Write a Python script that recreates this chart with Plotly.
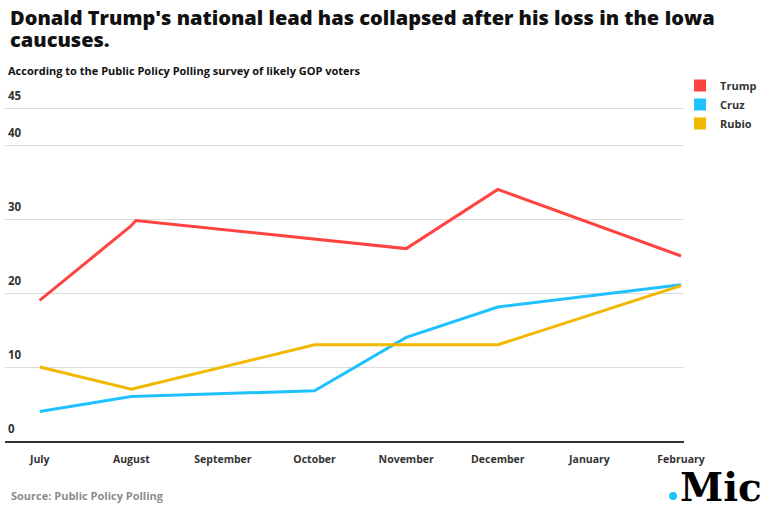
import plotly.graph_objects as go

months = ["July", "August", "September", "October", "November", "December", "January", "February"]
month_pos = [0, 1, 2, 3, 4, 5, 6, 7]

trump_x = [0, 0.99, 1.05, 4, 5, 7]
trump_y = [19, 29, 29.8, 26, 34, 25]

cruz_x = [0, 1, 3, 4, 5, 7]
cruz_y = [4, 6, 6.8, 14, 18.1, 21.1]

rubio_x = [0, 1, 3, 4, 5, 7]
rubio_y = [10, 7, 13, 13, 13, 21]

y_ticks = [0, 10, 20, 30, 40, 45]

colors = {"Trump": "#ff4340", "Cruz": "#1fc1ff", "Rubio": "#f2b800"}
FONT = "Open Sans"

W, H = 767, 515
PLOT_L, PLOT_R = 5, 690          # px
PLOT_T, PLOT_B = 86, 441         # px
L = PLOT_L
R = W - PLOT_R
T = PLOT_T
B = H - PLOT_B
pw = PLOT_R - PLOT_L
ph = PLOT_B - PLOT_T
X0, DX = 40, 92.43                # px of July, px per month
UNIT = 7.4                        # px per percentage point


def px_x(p):
    return (p - PLOT_L) / pw


def px_y(p):
    return (PLOT_B - p) / ph


fig = go.Figure()
for name, xs, ys in [("Trump", trump_x, trump_y), ("Cruz", cruz_x, cruz_y), ("Rubio", rubio_x, rubio_y)]:
    fig.add_trace(go.Scatter(x=xs, y=ys, mode="lines", name=name, showlegend=False,
                             line=dict(color=colors[name], width=3)))
for name in ["Trump", "Cruz", "Rubio"]:
    fig.add_trace(go.Scatter(x=[None], y=[None], mode="markers", name=name,
                             marker=dict(symbol="square", size=12, color=colors[name])))

fig.update_layout(
    width=W, height=H,
    margin=dict(l=L, r=R, t=T, b=B, pad=0),
    paper_bgcolor="white", plot_bgcolor="white",
    font=dict(family=FONT, color="#333333", size=11),
    title=dict(text="Donald Trump's national lead has collapsed after his loss in the Iowa",
               x=10 / W, xref="container", xanchor="left",
               y=1 - 18 / H, yref="container", yanchor="middle",
               font=dict(family=FONT, size=20, color="#111111", weight=800)),
    xaxis=dict(range=[(PLOT_L - X0) / DX, (PLOT_R - X0) / DX],
               tickvals=month_pos, ticktext=months,
               showgrid=False, zeroline=False,
               showline=True, linecolor="#333333", linewidth=1.5,
               ticks="outside", ticklen=8, tickcolor="rgba(0,0,0,0)",
               tickfont=dict(family=FONT, size=10.5, color="#333333", weight=700),
               fixedrange=True),
    yaxis=dict(range=[0, ph / UNIT], tickvals=y_ticks,
               showgrid=True, gridcolor="#dcdcdc", gridwidth=1,
               zeroline=False, showline=False,
               ticklabelposition="inside top", ticklabelshift=-4,
               tickfont=dict(family=FONT, size=11.5, color="#333333", weight=700),
               fixedrange=True),
    legend=dict(x=px_x(686), y=px_y(71), xanchor="left", yanchor="top",
                font=dict(family=FONT, size=11, color="#333333", weight=700),
                itemwidth=30, tracegroupgap=0, bgcolor="rgba(0,0,0,0)"),
    showlegend=True,
)

fig.add_annotation(text="caucuses.",
                   xref="paper", yref="paper", x=px_x(8), y=px_y(40),
                   xanchor="left", yanchor="middle", showarrow=False,
                   font=dict(family=FONT, size=20, color="#111111", weight=800))
fig.add_annotation(text="According to the Public Policy Polling survey of likely GOP voters",
                   xref="paper", yref="paper", x=px_x(6), y=px_y(70),
                   xanchor="left", yanchor="middle", showarrow=False,
                   font=dict(family=FONT, size=11, color="#111111", weight=700))
fig.add_annotation(text="Source: Public Policy Polling",
                   xref="paper", yref="paper", x=px_x(9), y=px_y(495),
                   xanchor="left", yanchor="middle", showarrow=False,
                   font=dict(family=FONT, size=11, color="#8c8c8c", weight=700))
fig.add_annotation(text="Mic",
                   xref="paper", yref="paper", x=px_x(771), y=px_y(487),
                   xanchor="right", yanchor="middle", showarrow=False,
                   font=dict(family="DejaVu Serif", size=39, color="#000000", weight=900))
fig.add_shape(type="circle", xref="paper", yref="paper",
              x0=px_x(675), x1=px_x(683), y0=px_y(500), y1=px_y(492),
              fillcolor="#1fc1ff", line=dict(width=0))

# remove the browser's default 8px body margin so the figure sits at the page origin
fig.write_html("out.html", config={"displayModeBar": False},
               post_script="document.body.style.margin='0px';")
